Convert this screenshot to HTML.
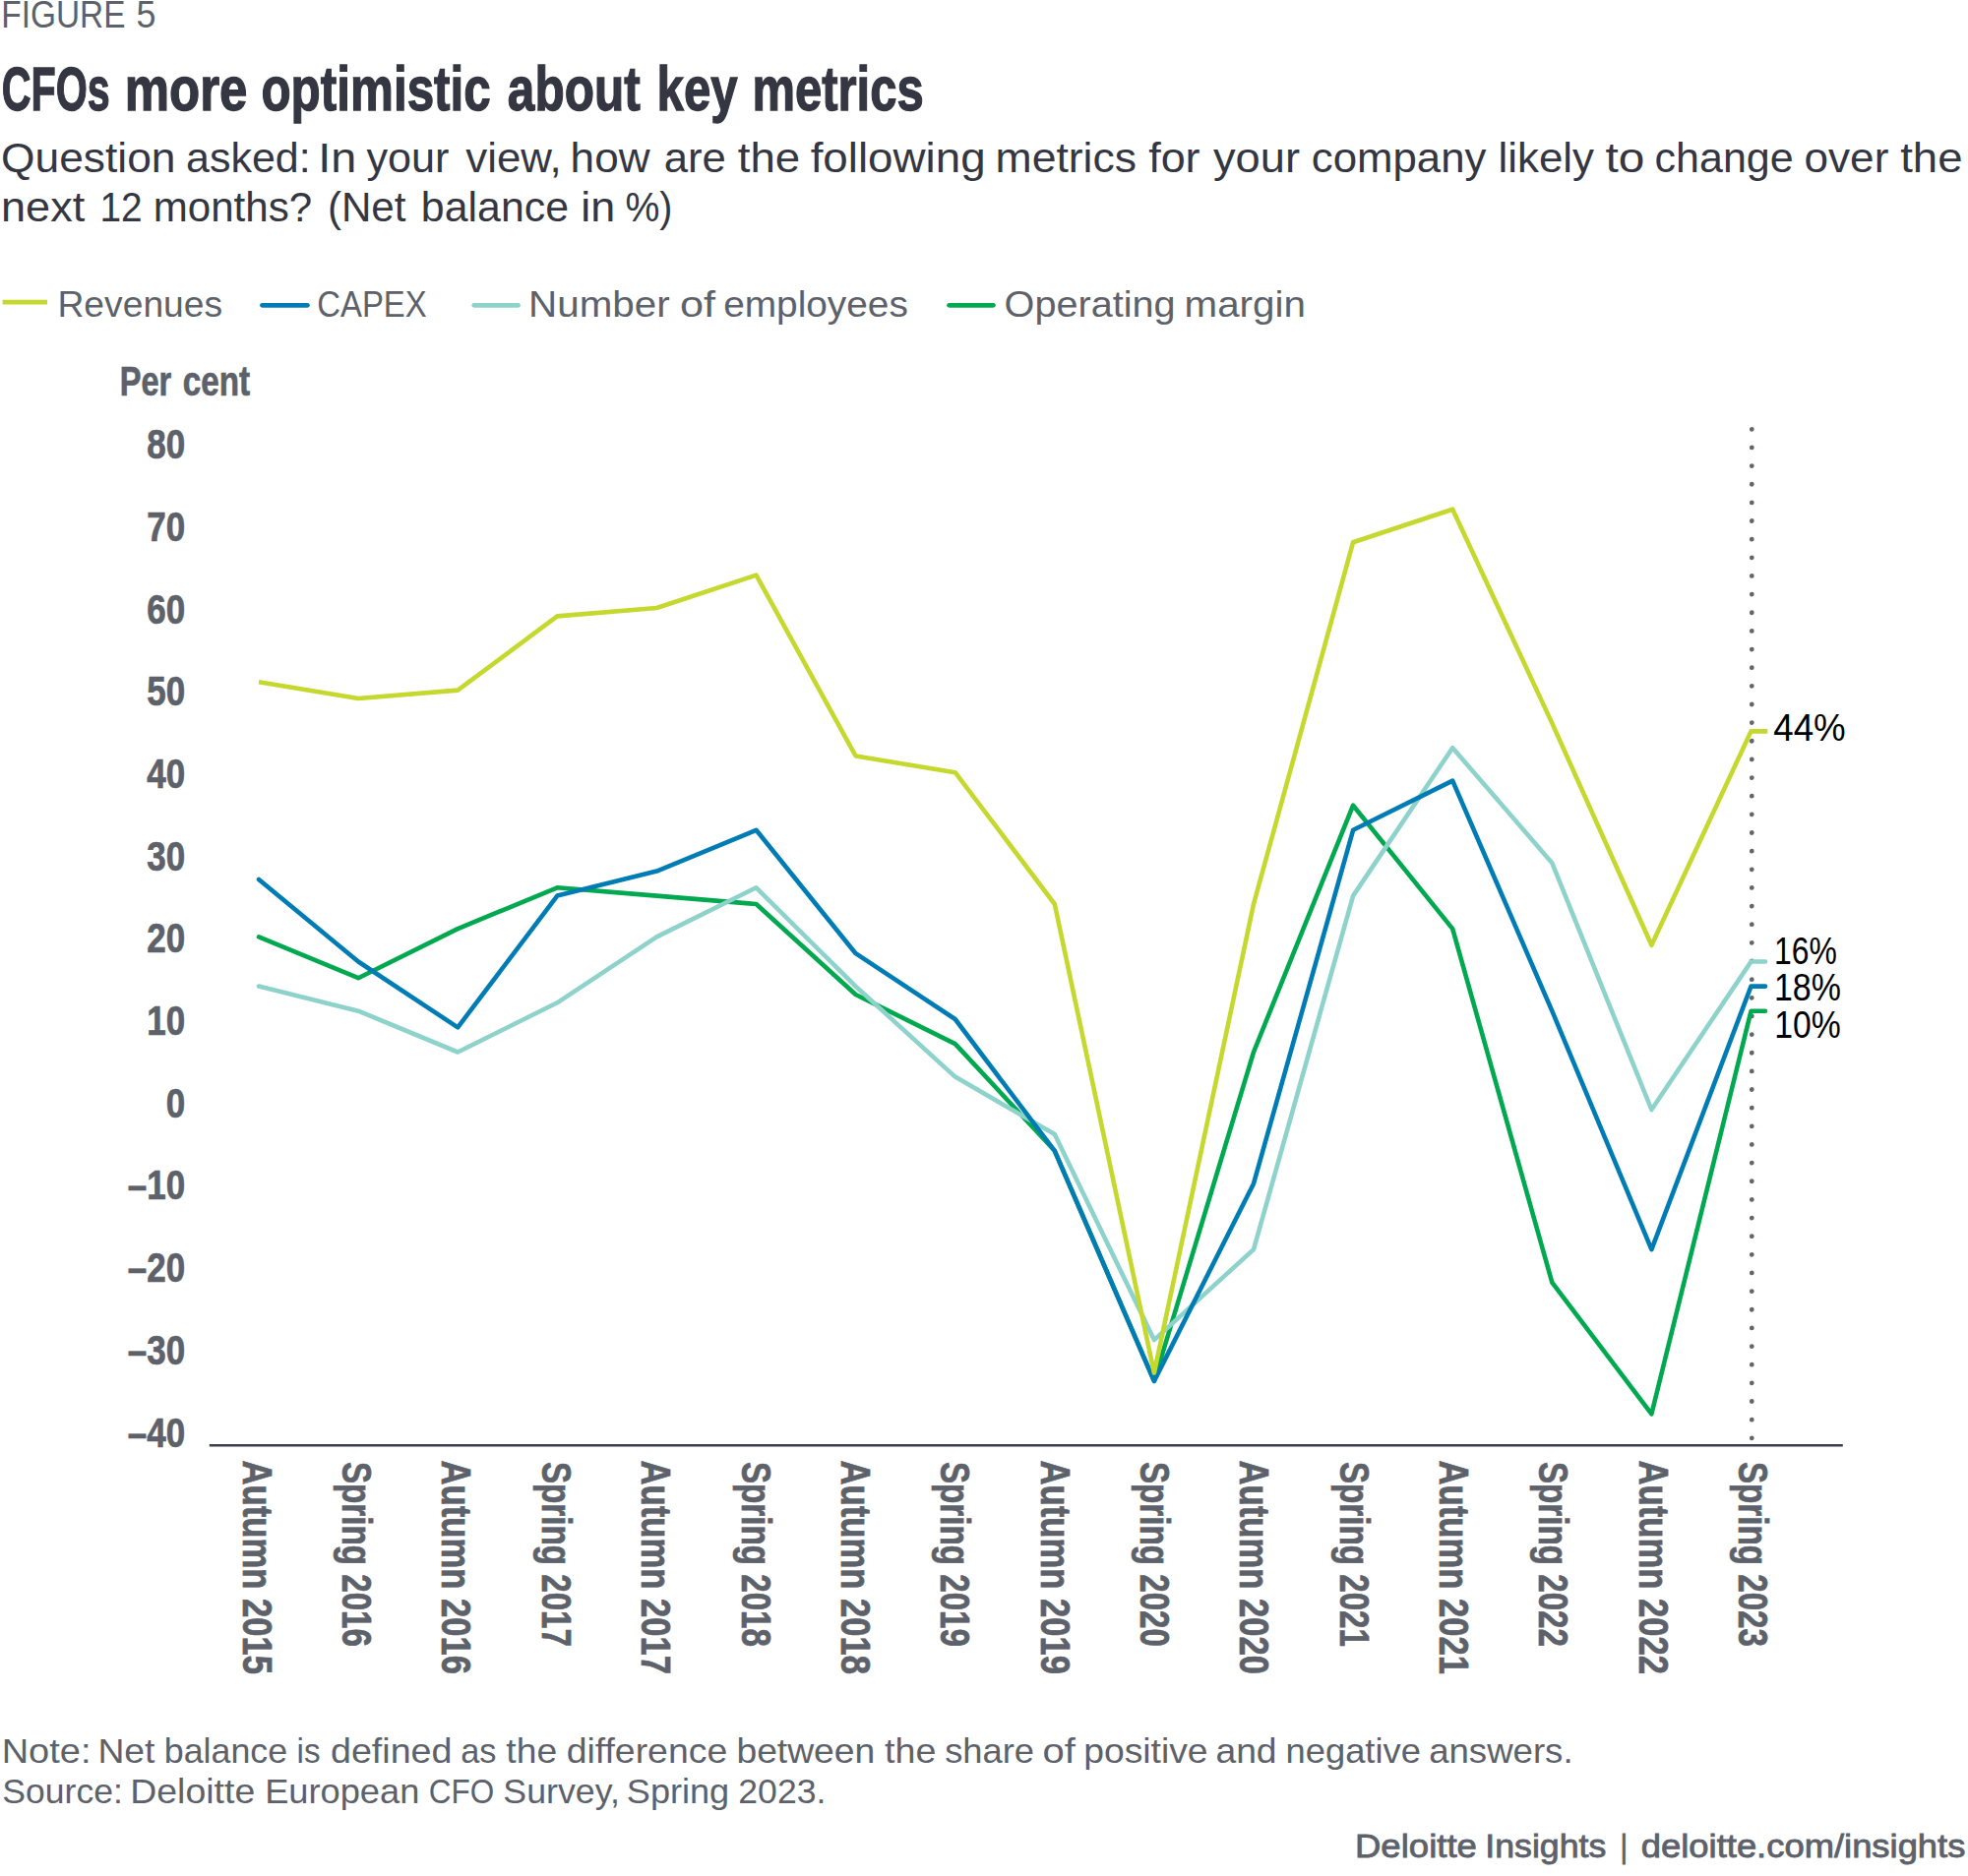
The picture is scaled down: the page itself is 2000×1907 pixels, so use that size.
<!DOCTYPE html>
<html lang="en"><head><meta charset="utf-8"><title>CFOs more optimistic about key metrics</title>
<style>
html,body{margin:0;padding:0;background:#fff}
body{width:2000px;height:1907px;overflow:hidden}
svg{display:block;font-family:"Liberation Sans",sans-serif}
</style></head><body>
<svg width="2000" height="1907" viewBox="0 0 2000 1907">
<rect width="2000" height="1907" fill="#fff"/>
<g font-size="38.2" fill="#5d616a">
<text transform="matrix(0.8738 0 0 1 1.36 27.9)">FIGURE</text>
<text transform="matrix(0.9389 0 0 1 138.57 27.9)">5</text>
</g>
<g font-size="62.8" fill="#343642" font-weight="bold" stroke="#343642" stroke-width="1.3">
<text transform="matrix(0.6566 0 0 1 1.78 111.8)">CFOs</text>
<text transform="matrix(0.8120 0 0 1 126.77 111.8)">more</text>
<text transform="matrix(0.7868 0 0 1 265.44 111.8)">optimistic</text>
<text transform="matrix(0.7894 0 0 1 515.83 111.8)">about</text>
<text transform="matrix(0.7829 0 0 1 667.57 111.8)">key</text>
<text transform="matrix(0.7804 0 0 1 764.38 111.8)">metrics</text>
</g>
<g font-size="42.5" fill="#343642">
<text transform="matrix(1.0434 0 0 1 1.07 175.3)">Question</text>
<text transform="matrix(1.0125 0 0 1 188.99 175.3)">asked:</text>
<text transform="matrix(1.1001 0 0 1 323.30 175.3)">In</text>
<text transform="matrix(1.0164 0 0 1 372.41 175.3)">your</text>
<text transform="matrix(1.0318 0 0 1 473.22 175.3)">view,</text>
<text transform="matrix(1.0379 0 0 1 579.61 175.3)">how</text>
<text transform="matrix(1.0277 0 0 1 674.67 175.3)">are</text>
<text transform="matrix(1.0740 0 0 1 749.76 175.3)">the</text>
<text transform="matrix(1.0765 0 0 1 823.66 175.3)">following</text>
<text transform="matrix(1.0483 0 0 1 1011.56 175.3)">metrics</text>
<text transform="matrix(1.0563 0 0 1 1167.17 175.3)">for</text>
<text transform="matrix(1.0641 0 0 1 1233.01 175.3)">your</text>
<text transform="matrix(1.0299 0 0 1 1332.86 175.3)">company</text>
<text transform="matrix(1.0343 0 0 1 1522.41 175.3)">likely</text>
<text transform="matrix(1.1251 0 0 1 1631.53 175.3)">to</text>
<text transform="matrix(1.0122 0 0 1 1681.59 175.3)">change</text>
<text transform="matrix(1.0392 0 0 1 1833.44 175.3)">over</text>
<text transform="matrix(1.0722 0 0 1 1931.16 175.3)">the</text>
</g>
<g font-size="42.5" fill="#343642">
<text transform="matrix(1.0612 0 0 1 1.02 224.8)">next</text>
<text transform="matrix(0.9140 0 0 1 101.45 224.8)">12</text>
<text transform="matrix(0.9906 0 0 1 155.72 224.8)">months?</text>
<text transform="matrix(0.9916 0 0 1 332.89 224.8)">(Net</text>
<text transform="matrix(1.0087 0 0 1 427.86 224.8)">balance</text>
<text transform="matrix(1.0566 0 0 1 590.24 224.8)">in</text>
<text transform="matrix(0.9236 0 0 1 635.39 224.8)">%)</text>
</g>
<line x1="2.6" y1="307.2" x2="48" y2="307.2" stroke="#c4d82d" stroke-width="4.7"/>
<line x1="266.5" y1="310.3" x2="312.40000000000003" y2="310.3" stroke="#007cb5" stroke-width="4.8" stroke-linecap="round"/>
<line x1="481.79999999999995" y1="310.3" x2="526.5" y2="310.3" stroke="#8dd2cb" stroke-width="4.8" stroke-linecap="round"/>
<line x1="964.6" y1="310.3" x2="1009.4" y2="310.3" stroke="#00a94f" stroke-width="4.8" stroke-linecap="round"/>
<g font-size="37.8" fill="#5d616a">
<text transform="matrix(0.9854 0 0 1 58.45 321.7)">Revenues</text>
<text transform="matrix(0.8686 0 0 1 322.36 321.7)">CAPEX</text>
<text transform="matrix(1.0688 0 0 1 537.09 321.7)">Number</text>
<text transform="matrix(1.1428 0 0 1 690.99 321.7)">of</text>
<text transform="matrix(1.0270 0 0 1 735.17 321.7)">employees</text>
<text transform="matrix(1.0489 0 0 1 1020.60 321.7)">Operating</text>
<text transform="matrix(1.0678 0 0 1 1203.54 321.7)">margin</text>
</g>
<g font-size="42.5" fill="#5d616a" font-weight="bold" stroke="#5d616a" stroke-width="0.7">
<text transform="matrix(0.7658 0 0 1 121.72 402.3)">Per</text>
<text transform="matrix(0.7821 0 0 1 185.71 402.3)">cent</text>
</g>
<g font-size="42" fill="#5d616a" font-weight="bold" stroke="#5d616a" stroke-width="0.7">
<text transform="matrix(0.8333 0 0 1 149.18 466.3)">80</text>
<text transform="matrix(0.8333 0 0 1 149.18 550.0)">70</text>
<text transform="matrix(0.8333 0 0 1 149.18 633.7)">60</text>
<text transform="matrix(0.8333 0 0 1 149.18 717.3)">50</text>
<text transform="matrix(0.8333 0 0 1 149.18 801.0)">40</text>
<text transform="matrix(0.8333 0 0 1 149.18 884.7)">30</text>
<text transform="matrix(0.8333 0 0 1 149.18 968.4)">20</text>
<text transform="matrix(0.8333 0 0 1 149.18 1052.1)">10</text>
<text transform="matrix(0.8333 0 0 1 168.64 1135.7)">0</text>
<text transform="matrix(0.8333 0 0 1 129.72 1219.4)">–10</text>
<text transform="matrix(0.8333 0 0 1 129.72 1303.1)">–20</text>
<text transform="matrix(0.8333 0 0 1 129.72 1386.8)">–30</text>
<text transform="matrix(0.8333 0 0 1 129.72 1470.5)">–40</text>
</g>
<line x1="212.8" y1="1469.3" x2="1872.8" y2="1469.3" stroke="#3b3f4a" stroke-width="2.5"/>
<line x1="1780.3" y1="436.3" x2="1780.3" y2="1462" stroke="#62666c" stroke-width="4.8" stroke-linecap="round" stroke-dasharray="0 18.645"/>
<polyline points="263.0,952.4 364.1,994.2 465.2,944.1 566.3,902.3 667.4,910.6 768.5,919.0 869.6,1011.0 970.7,1061.1 1071.8,1169.8 1172.9,1403.9 1274.0,1069.5 1375.1,818.7 1476.2,944.1 1577.3,1303.6 1678.4,1437.3 1779.5,1027.7 1794,1027.7" fill="none" stroke="#00a94f" stroke-width="4.6" stroke-linejoin="round" stroke-linecap="round"/>
<polyline points="263.0,1002.6 364.1,1027.7 465.2,1069.5 566.3,1019.3 667.4,952.4 768.5,902.3 869.6,1002.6 970.7,1094.6 1071.8,1153.1 1172.9,1362.1 1274.0,1270.1 1375.1,910.6 1476.2,760.2 1577.3,877.2 1678.4,1128.0 1779.5,977.5 1794,977.5" fill="none" stroke="#8dd2cb" stroke-width="4.6" stroke-linejoin="round" stroke-linecap="round"/>
<polyline points="263.0,893.9 364.1,977.5 465.2,1044.4 566.3,910.6 667.4,885.6 768.5,843.8 869.6,969.2 970.7,1036.0 1071.8,1169.8 1172.9,1403.9 1274.0,1203.2 1375.1,843.8 1476.2,793.6 1577.3,1027.7 1678.4,1270.1 1779.5,1002.6 1794,1002.6" fill="none" stroke="#007cb5" stroke-width="4.6" stroke-linejoin="round" stroke-linecap="round"/>
<polyline points="263.0,693.3 364.1,710.0 465.2,701.6 566.3,626.4 667.4,618.0 768.5,584.6 869.6,768.5 970.7,785.2 1071.8,919.0 1172.9,1395.5 1274.0,919.0 1375.1,551.2 1476.2,517.7 1577.3,735.1 1678.4,960.8 1779.5,743.4 1796.3,743.4" fill="none" stroke="#c4d82d" stroke-width="4.6" stroke-linejoin="round" stroke-linecap="butt"/>
<g font-size="38.2" fill="#000">
<text transform="matrix(0.9601 0 0 1 1802.29 753.2)">44%</text>
<text transform="matrix(0.8352 0 0 1 1803.08 979.6)">16%</text>
<text transform="matrix(0.8892 0 0 1 1802.92 1017.1)">18%</text>
<text transform="matrix(0.8837 0 0 1 1803.33 1054.9)">10%</text>
</g>
<g font-size="43.2" fill="#5d616a" font-weight="bold" stroke="#5d616a" stroke-width="0.7">
<text transform="matrix(0 0.8020 -1 0 246.6 1484.6)">Autumn 2015</text>
<text transform="matrix(0 0.7677 -1 0 348.0 1486.0)">Spring 2016</text>
<text transform="matrix(0 0.8020 -1 0 449.3 1484.6)">Autumn 2016</text>
<text transform="matrix(0 0.7677 -1 0 550.7 1486.0)">Spring 2017</text>
<text transform="matrix(0 0.8020 -1 0 652.1 1484.6)">Autumn 2017</text>
<text transform="matrix(0 0.7677 -1 0 753.5 1486.0)">Spring 2018</text>
<text transform="matrix(0 0.8020 -1 0 854.8 1484.6)">Autumn 2018</text>
<text transform="matrix(0 0.7677 -1 0 956.2 1486.0)">Spring 2019</text>
<text transform="matrix(0 0.8020 -1 0 1057.6 1484.6)">Autumn 2019</text>
<text transform="matrix(0 0.7677 -1 0 1158.9 1486.0)">Spring 2020</text>
<text transform="matrix(0 0.8020 -1 0 1260.3 1484.6)">Autumn 2020</text>
<text transform="matrix(0 0.7677 -1 0 1361.7 1486.0)">Spring 2021</text>
<text transform="matrix(0 0.8020 -1 0 1463.0 1484.6)">Autumn 2021</text>
<text transform="matrix(0 0.7677 -1 0 1564.4 1486.0)">Spring 2022</text>
<text transform="matrix(0 0.8020 -1 0 1665.8 1484.6)">Autumn 2022</text>
<text transform="matrix(0 0.7677 -1 0 1767.2 1486.0)">Spring 2023</text>
</g>
<g font-size="35" fill="#5d616a">
<text transform="matrix(1.0856 0 0 1 1.68 1791.8)">Note:</text>
<text transform="matrix(1.0661 0 0 1 99.44 1791.8)">Net</text>
<text transform="matrix(1.0228 0 0 1 166.81 1791.8)">balance</text>
<text transform="matrix(0.9493 0 0 1 301.61 1791.8)">is</text>
<text transform="matrix(1.0757 0 0 1 336.02 1791.8)">defined</text>
<text transform="matrix(0.9816 0 0 1 468.26 1791.8)">as</text>
<text transform="matrix(1.0661 0 0 1 514.28 1791.8)">the</text>
<text transform="matrix(1.0688 0 0 1 575.63 1791.8)">difference</text>
<text transform="matrix(1.0648 0 0 1 748.41 1791.8)">between</text>
<text transform="matrix(1.0768 0 0 1 898.97 1791.8)">the</text>
<text transform="matrix(1.0382 0 0 1 960.18 1791.8)">share</text>
<text transform="matrix(1.1407 0 0 1 1059.62 1791.8)">of</text>
<text transform="matrix(1.0647 0 0 1 1101.22 1791.8)">positive</text>
<text transform="matrix(1.0646 0 0 1 1235.44 1791.8)">and</text>
<text transform="matrix(1.0385 0 0 1 1306.50 1791.8)">negative</text>
<text transform="matrix(1.0459 0 0 1 1452.16 1791.8)">answers.</text>
</g>
<g font-size="35" fill="#5d616a">
<text transform="matrix(1.0149 0 0 1 2.37 1833.2)">Source:</text>
<text transform="matrix(1.0706 0 0 1 132.23 1833.2)">Deloitte</text>
<text transform="matrix(1.0358 0 0 1 269.13 1833.2)">European</text>
<text transform="matrix(0.8994 0 0 1 435.73 1833.2)">CFO</text>
<text transform="matrix(1.0207 0 0 1 511.36 1833.2)">Survey,</text>
<text transform="matrix(1.0319 0 0 1 636.84 1833.2)">Spring</text>
<text transform="matrix(1.0169 0 0 1 750.32 1833.2)">2023.</text>
</g>
<g font-size="32.3" fill="#5d616a" stroke="#5d616a" stroke-width="0.8">
<text transform="matrix(1.1324 0 0 1 1376.96 1888.3)">Deloitte</text>
<text transform="matrix(1.1049 0 0 1 1509.36 1888.3)">Insights</text>
<text transform="matrix(0.9084 0 0 1 1646.49 1888.3)">|</text>
<text transform="matrix(1.1268 0 0 1 1667.82 1888.3)">deloitte.com/insights</text>
</g>
</svg></body></html>
